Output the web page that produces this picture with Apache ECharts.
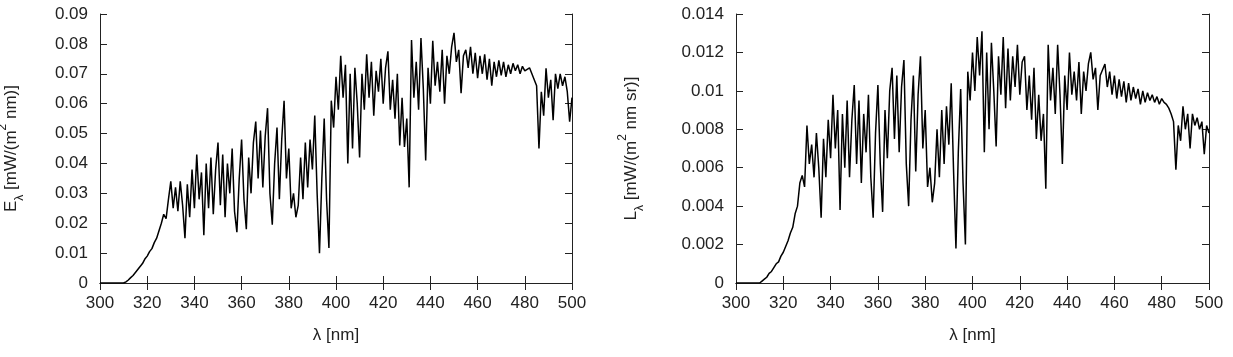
<!DOCTYPE html>
<html>
<head>
<meta charset="utf-8">
<script src="https://cdn.jsdelivr.net/npm/echarts@6/dist/echarts.min.js"></script>
<style>
  html, body { margin: 0; padding: 0; background: #fff; }
  #main { width: 1233px; height: 357px; }
</style>
</head>
<body>
<div id="main"></div>
<script>
// wavelength grid: 300..500 nm, 1 nm step
var LAMBDA_START = 300;
var xTicks = [300, 320, 340, 360, 380, 400, 420, 440, 460, 480, 500];

// spectral irradiance E_lambda [mW/(m^2 nm)]
var irradiance = [
  0, 0, 0, 0, 0, 0, 0, 0, 0, 0, 0,
  0.0004, 0.001, 0.0018, 0.0025, 0.0035, 0.0045, 0.0055, 0.0065, 0.008, 0.009,
  0.0105, 0.0115, 0.0135, 0.015, 0.0175, 0.02, 0.023, 0.0215, 0.028, 0.034,
  0.025, 0.032, 0.024, 0.034, 0.026, 0.015, 0.033, 0.022, 0.038, 0.025,
  0.043, 0.028, 0.037, 0.016, 0.04, 0.025, 0.042, 0.023, 0.038, 0.047,
  0.026, 0.043, 0.022, 0.04, 0.03, 0.045, 0.024, 0.017, 0.035, 0.048,
  0.028, 0.018, 0.042, 0.03, 0.047, 0.054, 0.035, 0.051, 0.032, 0.049,
  0.0585, 0.03, 0.0195, 0.04, 0.052, 0.028, 0.048, 0.061, 0.035, 0.045,
  0.025, 0.03, 0.022, 0.026, 0.042, 0.028, 0.047, 0.032, 0.048, 0.038,
  0.056, 0.03, 0.01, 0.035, 0.055, 0.028, 0.0117, 0.061, 0.052, 0.069,
  0.058, 0.076, 0.062, 0.073, 0.04, 0.07, 0.045, 0.072, 0.06, 0.042,
  0.07, 0.058, 0.0765, 0.062, 0.074, 0.056, 0.071, 0.064, 0.075, 0.06,
  0.072, 0.0775, 0.058, 0.068, 0.055, 0.07, 0.046, 0.062, 0.0455, 0.055,
  0.032, 0.0813, 0.062, 0.074, 0.058, 0.082, 0.065, 0.041, 0.072, 0.06,
  0.081, 0.066, 0.074, 0.064, 0.078, 0.06, 0.076, 0.07, 0.079, 0.0837,
  0.074, 0.078, 0.0635, 0.076, 0.078, 0.072, 0.079, 0.07, 0.077, 0.0685,
  0.076, 0.07, 0.0765, 0.068, 0.075, 0.066, 0.074, 0.069, 0.0745, 0.0695,
  0.074, 0.069, 0.073, 0.07, 0.0735, 0.071, 0.073, 0.07, 0.0725, 0.071,
  0.0715, 0.072, 0.07, 0.068, 0.066, 0.045, 0.064, 0.056, 0.0718, 0.062,
  0.068, 0.0545, 0.07, 0.065, 0.07, 0.066, 0.069, 0.064, 0.054, 0.062
];

// spectral radiance L_lambda [mW/(m^2 nm sr)]
var radiance = [
  0, 0, 0, 0, 0, 0, 0, 0, 0, 0, 0,
  0.0001, 0.0002, 0.0003, 0.0005, 0.0006, 0.0008, 0.001, 0.0011, 0.0014, 0.0016,
  0.0019, 0.0022, 0.0026, 0.0029, 0.0036, 0.004, 0.0052, 0.0056, 0.005, 0.0082,
  0.0062, 0.0072, 0.0055, 0.0078, 0.006, 0.0034, 0.0075, 0.0055, 0.0085, 0.0065,
  0.0098, 0.007, 0.009, 0.0038, 0.0088, 0.006, 0.0095, 0.0055, 0.0085, 0.0103,
  0.0062, 0.0095, 0.0052, 0.0088, 0.0068, 0.0098, 0.0055, 0.0034, 0.0078, 0.0103,
  0.0062, 0.0037, 0.009, 0.0065, 0.01, 0.0112, 0.0075, 0.0108, 0.0068, 0.0102,
  0.0116, 0.0062, 0.004, 0.0085, 0.0108, 0.0058, 0.0098, 0.0118, 0.007, 0.009,
  0.005, 0.006, 0.0042, 0.0052, 0.008, 0.0055, 0.009, 0.0062, 0.0092, 0.0072,
  0.0104, 0.0058, 0.0018, 0.0068, 0.0101, 0.0052, 0.002, 0.011, 0.0095, 0.012,
  0.01, 0.0128, 0.0108, 0.0131, 0.0068, 0.012, 0.008, 0.0125, 0.01, 0.0071,
  0.0118, 0.0098, 0.0128, 0.0091, 0.0122, 0.0095, 0.0118, 0.0102, 0.0124, 0.0098,
  0.0115, 0.0118, 0.009, 0.0108, 0.0085, 0.0112, 0.0075, 0.0098, 0.0074, 0.0088,
  0.0049, 0.0124, 0.0095, 0.0112, 0.0088, 0.0124, 0.0098, 0.0062, 0.0108, 0.009,
  0.012, 0.0098, 0.011, 0.0095, 0.0115, 0.0088, 0.011, 0.01, 0.0114, 0.012,
  0.0106, 0.0112, 0.009, 0.0108, 0.0111, 0.0114, 0.0102, 0.011, 0.0098, 0.0108,
  0.0096, 0.0106, 0.0097, 0.0105, 0.0094, 0.0104, 0.0095, 0.0102, 0.0096, 0.0101,
  0.0093, 0.01, 0.0094, 0.0099, 0.0095, 0.0098, 0.0094, 0.0097, 0.0093, 0.0096,
  0.0094, 0.0093, 0.0091, 0.0088, 0.0084, 0.0059, 0.0082, 0.0074, 0.0092, 0.008,
  0.0088, 0.007, 0.0088, 0.0082, 0.0086, 0.008, 0.0084, 0.0067, 0.0082, 0.0078
];

var eTicks = [0, 0.01, 0.02, 0.03, 0.04, 0.05, 0.06, 0.07, 0.08, 0.09];
var lTicks = [0, 0.002, 0.004, 0.006, 0.008, 0.01, 0.012, 0.014];

function pairs(values) {
  return values.map(function (v, i) { return [LAMBDA_START + i, v]; });
}

var FONT = 'Liberation Sans';
var INK = '#222';
var labelStyle = { color: INK, fontFamily: FONT, fontSize: 17 };
var richName = {
  sub: { fontFamily: FONT, fontSize: 12, color: INK, verticalAlign: 'bottom', padding: [0, 0, -6, 0] },
  sup: { fontFamily: FONT, fontSize: 12, color: INK, verticalAlign: 'top', padding: [-6, 0, 0, 0] }
};

function xAxes(gridIndex) {
  var common = {
    type: 'value', gridIndex: gridIndex, min: xTicks[0], max: xTicks[xTicks.length - 1], interval: 20,
    axisLine: { show: true, lineStyle: { color: INK, width: 1 } },
    axisTick: { show: true, inside: true, length: 7, lineStyle: { color: INK } },
    splitLine: { show: false }
  };
  return [
    Object.assign({}, common, {
      position: 'bottom',
      name: 'λ [nm]', nameLocation: 'middle', nameGap: 44,
      nameTextStyle: { color: INK, fontFamily: FONT, fontSize: 17 },
      axisLabel: Object.assign({ margin: 12 }, labelStyle)
    }),
    Object.assign({}, common, { position: 'top', axisLabel: { show: false } })
  ];
}

function yAxes(gridIndex, ticks, name, nameGap) {
  var common = {
    type: 'value', gridIndex: gridIndex, min: 0, max: ticks[ticks.length - 1], interval: ticks[1],
    axisLine: { show: true, lineStyle: { color: INK, width: 1 } },
    axisTick: { show: true, inside: true, length: 7, lineStyle: { color: INK } },
    splitLine: { show: false }
  };
  return [
    Object.assign({}, common, {
      position: 'left',
      name: name, nameLocation: 'middle', nameGap: nameGap, nameRotate: 90,
      nameTextStyle: { color: INK, fontFamily: FONT, fontSize: 17, rich: richName },
      axisLabel: Object.assign({ margin: 12, formatter: function (v) { return String(+v.toFixed(4)); } }, labelStyle)
    }),
    Object.assign({}, common, { position: 'right', axisLabel: { show: false } })
  ];
}

var chart = echarts.init(document.getElementById('main'), null, { renderer: 'canvas' });

var option = {
  backgroundColor: '#fff',
  animation: false,
  grid: [
    { left: 100, right: 661, top: 14, bottom: 74, containLabel: false, outerBoundsMode: 'none' },
    { left: 736, right: 24, top: 14, bottom: 74, containLabel: false, outerBoundsMode: 'none' }
  ],
  xAxis: xAxes(0).concat(xAxes(1)),
  yAxis: yAxes(0, eTicks, 'E{sub|λ} [mW/(m{sup|2} nm)]', 80)
    .concat(yAxes(1, lTicks, 'L{sub|λ} [mW/(m{sup|2} nm sr)]', 96)),
  series: [
    {
      type: 'line', xAxisIndex: 0, yAxisIndex: 0, data: pairs(irradiance),
      showSymbol: false, lineStyle: { color: '#000', width: 1.5 }
    },
    {
      type: 'line', xAxisIndex: 2, yAxisIndex: 2, data: pairs(radiance),
      showSymbol: false, lineStyle: { color: '#000', width: 1.5 }
    }
  ]
};

chart.setOption(option);
</script>
</body>
</html>
